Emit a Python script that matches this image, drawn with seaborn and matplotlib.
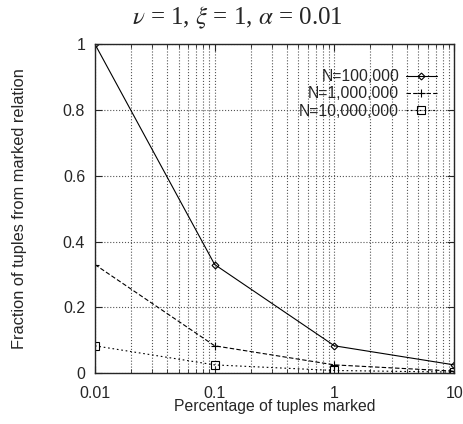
import numpy as np
import pandas as pd
import matplotlib.pyplot as plt
import seaborn as sns
import matplotlib.ticker as ticker

pct_marked = [0.01, 0.1, 1, 10]
frac_100k = [1.0, 0.33, 0.083, 0.025]
frac_1m = [0.33, 0.083, 0.025, 0.006]
frac_10m = [0.083, 0.025, 0.008, 0.003]
series_names = ['N=100,000', 'N=1,000,000', 'N=10,000,000']

df = pd.DataFrame({
    'pct': pct_marked * 3,
    'frac': frac_100k + frac_1m + frac_10m,
    'series': np.repeat(series_names, len(pct_marked)),
})

sns.set_style('ticks')
plt.rcParams['font.family'] = ['Liberation Sans', 'DejaVu Sans']
plt.rcParams['mathtext.fontset'] = 'stix'

fig = plt.figure(figsize=(4.63, 4.24), dpi=100)
ax = fig.add_axes([0.205, 0.12, 0.776, 0.776])

dashes = ['', (4, 2), (1.5, 2.5)]
markers = ['D', '+', 's']
msizes = [3.5, 5.5, 5.5]
for name, ds, mk, ms in zip(series_names, dashes, markers, msizes):
    sns.lineplot(data=df[df['series'] == name], x='pct', y='frac', ax=ax,
                 color='black', linewidth=0.8, dashes=False, label=name,
                 marker=mk, markersize=ms, markerfacecolor='none',
                 markeredgecolor='black', markeredgewidth=0.8)
    line = ax.get_lines()[-1]
    if ds:
        line.set_dashes(ds)

ax.set_xscale('log')
ax.set_xlim(0.01, 10)
ax.set_ylim(0, 1)
ax.set_xticks(pct_marked)
ax.xaxis.set_major_formatter(ticker.FuncFormatter(lambda x, p: f'{x:g}'))
ax.set_yticks([0, 0.2, 0.4, 0.6, 0.8, 1])
ax.yaxis.set_major_formatter(ticker.FuncFormatter(lambda y, p: f'{y:g}'))
ax.tick_params(direction='in', which='both', top=True, right=True, labelsize=11.5)
ax.tick_params(axis='x', which='major', length=5, pad=9)
ax.tick_params(axis='y', which='major', length=5, pad=7)
ax.tick_params(which='minor', length=3)
ax.grid(True, which='major', linestyle=':', color='#555555', linewidth=0.8)
ax.grid(True, which='minor', axis='x', linestyle=':', color='#555555', linewidth=0.8)
for s in ax.spines.values():
    s.set_linewidth(1.0)

ax.set_xlabel('Percentage of tuples marked', fontsize=11.3, labelpad=-1)
ax.set_ylabel('Fraction of tuples from marked relation', fontsize=11.8, labelpad=26)

fig.text(0.512, 0.958, r'$\nu$ = 1, $\xi$ = 1, $\alpha$ = 0.01', ha='center', va='center',
         fontsize=18, family=['Liberation Serif', 'DejaVu Serif'])

leg = ax.legend(loc='upper right', frameon=False, markerfirst=False, fontsize=11.3,
                handlelength=2.0, borderaxespad=1.0, labelspacing=0.155, handletextpad=0.4,
                bbox_to_anchor=(1.013, 0.991))
for t in leg.get_texts():
    t.set_ha('right')
leg._legend_box.align = 'right'

fig.savefig('out.png', dpi=100)
